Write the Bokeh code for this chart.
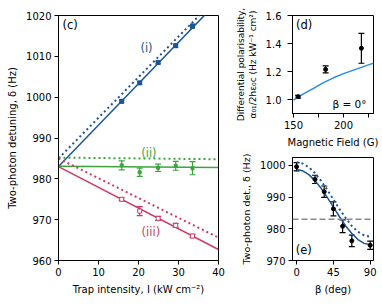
from bokeh.plotting import figure
from bokeh.layouts import row, column
from bokeh.models import Range1d, FixedTicker, Whisker, TeeHead, ColumnDataSource, Label, Span
from bokeh.embed import file_html
from bokeh.resources import INLINE

FONT = "DejaVu Sans"
BLUE = "#1b5494"
GREEN = "#3ca43c"
RED = "#cf3b65"
LBLUE = "#2e8bd6"

# ---- panel (c) data ----
intensity = [15.8, 20.3, 24.9, 29.3, 33.5]
det_i = [999.0, 1003.5, 1008.5, 1012.6, 1017.4]
err_i = [0.4, 0.4, 0.4, 0.4, 0.5]
det_ii = [983.3, 981.6, 982.7, 983.2, 982.6]
err_ii = [1.1, 1.0, 0.9, 1.1, 1.6]
det_iii = [975.0, 972.1, 970.3, 968.6, 966.0]
err_iii = [0.4, 1.1, 0.5, 0.5, 0.4]
line_I = [0, 40]
fit_i = [983.0, 1023.6]
theory_i = [985.0, 1024.8]
fit_ii = [983.1, 982.8]
theory_ii = [985.2, 984.8]
fit_iii = [983.0, 962.7]
theory_iii = [985.0, 965.6]
c_xticks = [0, 10, 20, 30, 40]
c_yticks = [960, 970, 980, 990, 1000, 1010, 1020]

# ---- panel (d) data ----
field = [154.6, 182.1, 217.9]
polar = [1.02, 1.215, 1.366]
polar_err = [0.01, 0.025, 0.107]
curve_B = [150, 160, 170, 180, 190, 200, 210, 220, 230]
curve_pol = [0.995, 1.04, 1.08, 1.12, 1.155, 1.185, 1.21, 1.235, 1.26]
d_xticks = [150, 175, 200, 225]
d_yticks = [1.0, 1.2, 1.4, 1.6]

# ---- panel (e) data ----
beta = [0, 22.5, 33.75, 45, 56.25, 67.5, 90]
det_e = [999.6, 995.6, 991.7, 986.3, 980.8, 976.2, 974.8]
err_e = [1.3, 1.3, 1.8, 2.2, 2.0, 1.8, 1.3]
curve_beta = [0, 7.5, 15, 22.5, 30, 37.5, 45, 52.5, 60, 67.5, 75, 82.5, 90]
fit_e = [998.7, 998.3, 997.1, 995.2, 992.8, 989.9, 986.85, 983.8, 980.9, 978.5, 976.6, 975.4, 975.0]
theory_e = [1001.0, 1000.6, 999.4, 997.6, 995.1, 992.3, 989.25, 986.2, 983.4, 980.9, 979.1, 977.9, 977.5]
ref_level = 983.0
e_xticks = [0, 45, 90]
e_yticks = [970, 980, 990, 1000]


def style(p, xticks, yticks, xfmt=None, yfmt=None):
    p.outline_line_color = "black"
    p.outline_line_width = 1
    p.xgrid.visible = False
    p.ygrid.visible = False
    p.background_fill_color = "white"
    p.border_fill_color = "white"
    for ax in (p.xaxis[0], p.yaxis[0]):
        ax.axis_line_color = "black"
        ax.major_tick_line_color = "black"
        ax.minor_tick_line_color = None
        ax.major_tick_out = 4
        ax.major_tick_in = 0
        ax.major_label_standoff = 3
        ax.major_label_text_font = FONT
        ax.major_label_text_font_size = "10px"
        ax.major_label_text_color = "black"
        ax.axis_label_text_font = FONT
        ax.axis_label_text_font_size = "10px"
        ax.axis_label_text_font_style = "normal"
        ax.axis_label_text_color = "black"
        ax.axis_label_standoff = 5
    p.xaxis[0].ticker = FixedTicker(ticks=xticks)
    p.yaxis[0].ticker = FixedTicker(ticks=yticks)
    if xfmt:
        p.xaxis[0].major_label_overrides = xfmt
    if yfmt:
        p.yaxis[0].major_label_overrides = yfmt


def errbars(p, x, y, e, color, cap=6, width=1.2):
    src = ColumnDataSource(dict(x=x, lo=[a - b for a, b in zip(y, e)], hi=[a + b for a, b in zip(y, e)]))
    w = Whisker(source=src, base="x", lower="lo", upper="hi", dimension="height",
                line_color=color, line_width=width,
                upper_head=TeeHead(size=cap, line_color=color, line_width=width),
                lower_head=TeeHead(size=cap, line_color=color, line_width=width))
    p.add_layout(w)


def label(p, x, y, text, color="black", size="11.5px", align="left", baseline="middle"):
    p.add_layout(Label(x=x, y=y, text=text, text_color=color, text_font=FONT,
                       text_font_size=size, text_align=align, text_baseline=baseline))


# ---------- panel (c) ----------
pc = figure(width=231, height=300, x_range=Range1d(0, 40), y_range=Range1d(960, 1020),
            output_backend="svg", toolbar_location=None,
            min_border_left=58, min_border_right=13, min_border_top=15, min_border_bottom=40)
style(pc, c_xticks, c_yticks)
pc.xaxis[0].axis_label = "Trap intensity, I (kW cm⁻²)"
pc.yaxis[0].axis_label = "Two-photon detuning, δ (Hz)"

for fit, th, col in ((fit_i, theory_i, BLUE), (fit_ii, theory_ii, GREEN), (fit_iii, theory_iii, RED)):
    pc.line(line_I, th, line_color=col, line_width=2, line_dash="2 3")
    pc.line(line_I, fit, line_color=col, line_width=1.5)

errbars(pc, intensity, det_i, err_i, BLUE, cap=5)
errbars(pc, intensity, det_ii, err_ii, GREEN, cap=6)
errbars(pc, intensity, det_iii, err_iii, RED, cap=6)
pc.scatter(intensity, det_i, marker="square", size=4, fill_color=BLUE, line_color=BLUE)
pc.scatter(intensity, det_ii, marker="square", size=3, fill_color=GREEN, line_color=GREEN)
pc.scatter(intensity, det_iii, marker="square", size=4, fill_color="white", line_color=RED, line_width=1)

label(pc, 1.0, 1017.6, "(c)")
label(pc, 22.0, 1012.0, "(i)", BLUE, align="center")
label(pc, 22.6, 986.4, "(ii)", GREEN, align="center")
label(pc, 23.1, 967.1, "(iii)", RED, align="center")

# ---------- panel (d) ----------
pd_ = figure(width=151, height=150, x_range=Range1d(149, 230), y_range=Range1d(0.9, 1.6),
             output_backend="svg", toolbar_location=None,
             min_border_left=61, min_border_right=9, min_border_top=15, min_border_bottom=33)
style(pd_, d_xticks, d_yticks, xfmt={175: "", 225: ""}, yfmt={1.0: "1.0", 1.2: "1.2", 1.4: "1.4", 1.6: "1.6"})
pd_.xaxis[0].axis_label = "Magnetic Field (G)"
pd_.yaxis[0].axis_label = "Differential polarisability,\nα₀₁/2hε₀c (Hz kW⁻¹ cm²)"
pd_.yaxis[0].axis_label_text_font_size = "9px"
pd_.yaxis[0].axis_label_standoff = 5
pd_.yaxis[0].major_tick_out = 5
pd_.yaxis[0].major_label_standoff = 6
pd_.line(curve_B, curve_pol, line_color=LBLUE, line_width=1.5)
errbars(pd_, field, polar, polar_err, "black", cap=6)
pd_.scatter(field, polar, marker="circle", size=4, fill_color="black", line_color="black")
label(pd_, 152.5, 1.53, "(d)")
label(pd_, 223.0, 0.968, "β = 0°", size="10.5px", align="right")

# ---------- panel (e) ----------
pe = figure(width=151, height=150, x_range=Range1d(-5, 94), y_range=Range1d(970, 1002.5),
            output_backend="svg", toolbar_location=None,
            min_border_left=60, min_border_right=9, min_border_top=7, min_border_bottom=40)
style(pe, e_xticks, e_yticks)
pe.xaxis[0].axis_label = "β (deg)"
pe.yaxis[0].axis_label = "Two-photon det., δ (Hz)"
pe.yaxis[0].axis_label_text_font_size = "9.5px"
pe.add_layout(Span(location=ref_level, dimension="width", line_color="#888888",
                   line_width=1.5, line_dash="6 3"))
pe.line(curve_beta, theory_e, line_color=BLUE, line_width=2, line_dash="2 3")
pe.line(curve_beta, fit_e, line_color=BLUE, line_width=1.5)
errbars(pe, beta, det_e, err_e, "black", cap=6)
pe.scatter(beta, det_e, marker="circle", size=4, fill_color="black", line_color="black")
label(pe, -1.0, 973.4, "(e)")

layout = row(pc, column(pd_, pe, spacing=0), spacing=0)

open("out.html", "w").write(file_html(layout, INLINE))
